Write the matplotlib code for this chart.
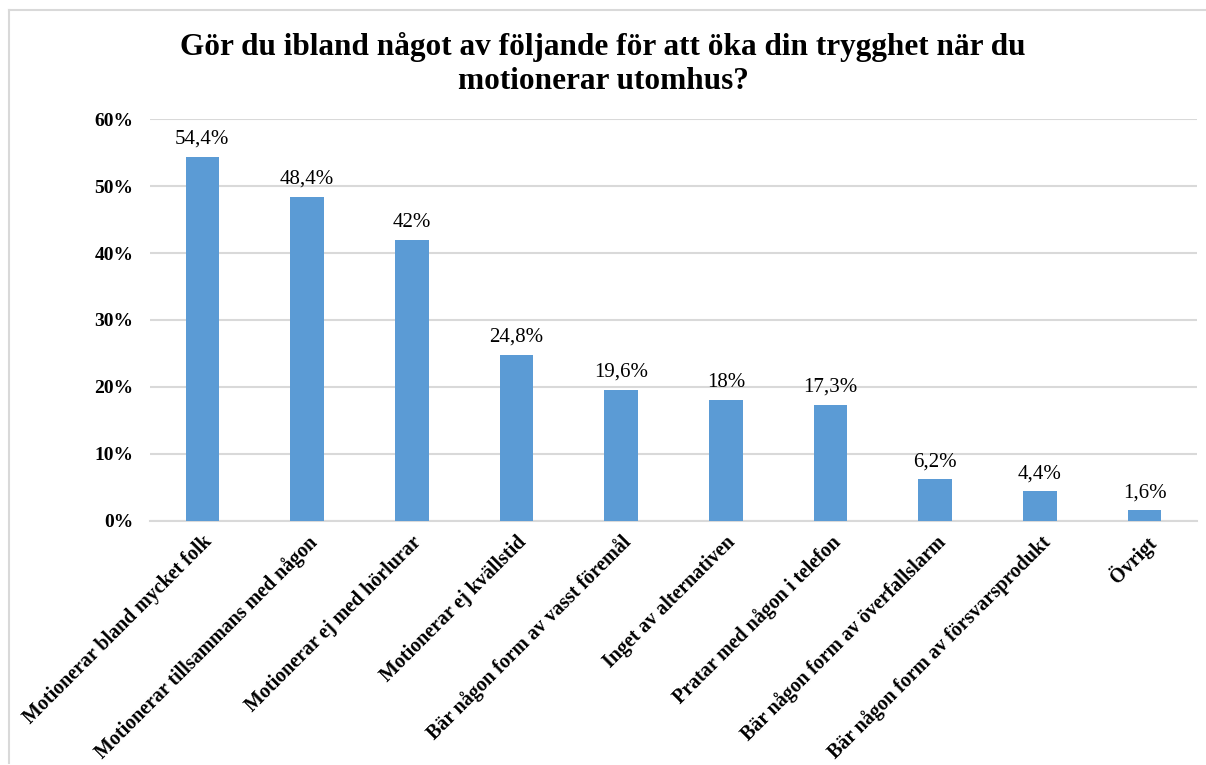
import matplotlib
matplotlib.use("Agg")
import matplotlib.pyplot as plt
from matplotlib.lines import Line2D

plt.rcParams['font.family'] = ['Liberation Serif', 'DejaVu Serif']

title = "Gör du ibland något av följande för att öka din trygghet när du\nmotionerar utomhus?"
categories = [
    "Motionerar bland mycket folk",
    "Motionerar tillsammans med någon",
    "Motionerar ej med hörlurar",
    "Motionerar ej kvällstid",
    "Bär någon form av vasst föremål",
    "Inget av alternativen",
    "Pratar med någon i telefon",
    "Bär någon form av överfallslarm",
    "Bär någon form av försvarsprodukt",
    "Övrigt",
]
values = [54.4, 48.4, 42, 24.8, 19.6, 18, 17.3, 6.2, 4.4, 1.6]
yticks = [0, 10, 20, 30, 40, 50, 60]

bar_color = '#5B9BD5'
grid_color = '#D9D9D9'

fig = plt.figure(figsize=(12.06, 7.65), dpi=100)
ax = fig.add_axes([0.1244, 0.319, 0.9925 - 0.1244, 0.8444 - 0.319])

x = range(len(categories))
ax.bar(x, values, width=0.32, color=bar_color, zorder=3)

for i, v in enumerate(values):
    lab = f"{v:g}".replace('.', ',') + '%'
    ax.text(i, v + 1.2, lab, ha='center', va='bottom', fontsize=15, color='#000000')

ax.set_xlim(-0.5, len(categories) - 0.5)
ax.set_ylim(0, 60)
ax.set_yticks(yticks)
ax.set_yticklabels([f"{t}%" for t in yticks], fontsize=14, fontweight='bold')
ax.yaxis.grid(True, color=grid_color, linewidth=1.5, zorder=0)
ax.set_axisbelow(True)
ax.tick_params(axis='y', length=0, pad=12)
ax.tick_params(axis='x', length=0, pad=8)
ax.set_xticks(list(x))
ax.set_xticklabels(categories, rotation=45, ha='right', rotation_mode='anchor',
                   fontsize=14.4, fontweight='bold')
for s in ['top', 'right', 'left']:
    ax.spines[s].set_visible(False)
ax.spines['bottom'].set_color(grid_color)
ax.spines['bottom'].set_linewidth(1.5)

fig.text(0.5, 0.958, title, ha='center', va='top', fontsize=22.5, fontweight='bold',
         linespacing=1.2)

# outer frame lines (top and left)
fig.add_artist(Line2D([9 / 1206, 1], [1 - 10 / 765, 1 - 10 / 765], color=grid_color, lw=1.5))
fig.add_artist(Line2D([9 / 1206, 9 / 1206], [0.003, 1 - 10 / 765], color=grid_color, lw=1.5))

fig.savefig('out.png', dpi=100)
